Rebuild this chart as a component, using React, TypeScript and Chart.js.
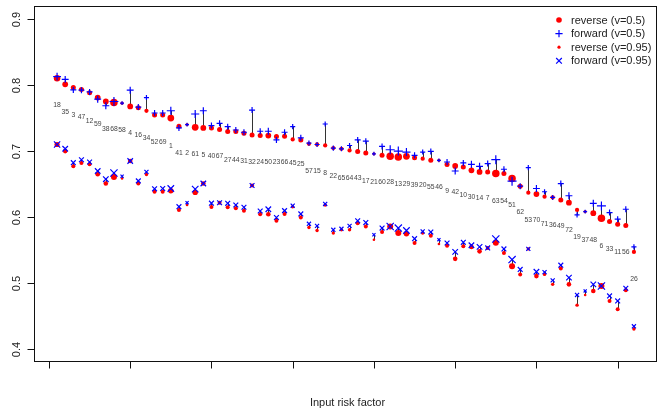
import { useEffect, useRef } from "react";
import { Chart, registerables } from "chart.js";

Chart.register(...registerables);

// Risk factor ids, in plotted order
const riskIds = [
  18, 35, 3, 47, 12, 59, 38, 68, 58, 4, 16, 34, 52, 69, 1, 41, 2, 61, 5, 40, 67, 27, 44, 31,
  32, 24, 50, 23, 66, 45, 25, 57, 15, 8, 22, 65, 64, 43, 17, 21, 60, 28, 13, 29, 39, 20, 55, 46,
  9, 42, 10, 30, 14, 7, 63, 54, 51, 62, 53, 70, 71, 36, 49, 72, 19, 37, 48, 6, 33, 11, 56, 26,
];

// reverse selection, v = 0.5
const reverseHalf = [
  0.8107, 0.8016, 0.7966, 0.7936, 0.7886, 0.7815, 0.7755, 0.774, 0.773, 0.768, 0.766, 0.7614,
  0.755, 0.755, 0.7504, 0.7378, 0.7404, 0.7363, 0.7353, 0.7353, 0.7328, 0.7298, 0.7298, 0.7273,
  0.7248, 0.7238, 0.7238, 0.7223, 0.7228, 0.7178, 0.7172, 0.7112, 0.7102, 0.7087, 0.7047, 0.7037,
  0.7012, 0.6997, 0.6972, 0.6961, 0.6937, 0.6922, 0.6911, 0.6922, 0.69, 0.6886, 0.6861, 0.6861,
  0.6797, 0.6776, 0.6761, 0.6711, 0.6686, 0.6686, 0.6661, 0.6661, 0.6585, 0.647, 0.637, 0.6349,
  0.6309, 0.6298, 0.6259, 0.6219, 0.6108, 0.6083, 0.6059, 0.5983, 0.5933, 0.5893, 0.5872, 0.5471,
];

// forward selection, v = 0.5
const forwardHalf = [
  0.8131, 0.809, 0.793, 0.7926, 0.79, 0.779, 0.769, 0.7755, 0.773, 0.7926, 0.767, 0.7815,
  0.758, 0.758, 0.7614, 0.7353, 0.7404, 0.7565, 0.7614, 0.7389, 0.7423, 0.7373, 0.7322, 0.7288,
  0.7624, 0.7303, 0.7303, 0.7172, 0.7288, 0.7373, 0.7203, 0.7123, 0.7102, 0.7413, 0.7047, 0.7037,
  0.7087, 0.7172, 0.7152, 0.6961, 0.7072, 0.7022, 0.7002, 0.6987, 0.6937, 0.6987, 0.6997, 0.6861,
  0.6836, 0.67, 0.6822, 0.6801, 0.6771, 0.6812, 0.6871, 0.6726, 0.6545, 0.647, 0.6751, 0.6434,
  0.6385, 0.6298, 0.6509, 0.6324, 0.6033, 0.6083, 0.6209, 0.6169, 0.6068, 0.5968, 0.6119, 0.5547,
];

// reverse selection, v = 0.95
const reverseHigh = [
  0.7102, 0.7002, 0.6771, 0.6822, 0.6801, 0.6651, 0.6511, 0.661, 0.6585, 0.6851, 0.6511, 0.6646,
  0.6385, 0.6385, 0.6399, 0.6108, 0.6184, 0.6375, 0.651, 0.6154, 0.6218, 0.6149, 0.6134, 0.6098,
  0.648, 0.6044, 0.6044, 0.5943, 0.6048, 0.6158, 0.5993, 0.5843, 0.5797, 0.6184, 0.5757, 0.5807,
  0.5807, 0.5908, 0.5857, 0.5657, 0.5772, 0.5857, 0.5757, 0.5747, 0.5607, 0.5757, 0.5717, 0.5592,
  0.5566, 0.5366, 0.5557, 0.5547, 0.548, 0.5532, 0.5612, 0.5456, 0.5255, 0.513, 0.5517, 0.5104,
  0.513, 0.4979, 0.522, 0.4979, 0.4663, 0.4818, 0.4879, 0.4954, 0.4727, 0.4602, 0.4889, 0.4301,
];

// forward selection, v = 0.95
const forwardHigh = [
  0.7102, 0.7037, 0.6826, 0.6871, 0.6836, 0.67, 0.6575, 0.667, 0.662, 0.6851, 0.655, 0.6686,
  0.6429, 0.6434, 0.6434, 0.6158, 0.6218, 0.6425, 0.651, 0.6211, 0.6218, 0.6209, 0.6184, 0.6149,
  0.648, 0.6093, 0.6119, 0.5993, 0.6098, 0.6173, 0.6048, 0.5898, 0.5867, 0.6199, 0.5807, 0.5822,
  0.5867, 0.5943, 0.5917, 0.5732, 0.5833, 0.5857, 0.5833, 0.5797, 0.5672, 0.5782, 0.5772, 0.5657,
  0.5607, 0.5471, 0.5617, 0.5572, 0.5547, 0.5532, 0.5667, 0.5517, 0.5355, 0.5205, 0.5517, 0.517,
  0.5164, 0.5039, 0.527, 0.508, 0.4818, 0.4879, 0.4979, 0.4954, 0.4803, 0.4727, 0.4919, 0.4342,
];

// vertical level of each id label
const labelLevel = [
  0.77, 0.76, 0.7554, 0.7524, 0.7464, 0.7404, 0.7333, 0.7333, 0.7313, 0.7273, 0.7248, 0.7203,
  0.7133, 0.7133, 0.7083, 0.6971, 0.6975, 0.6952, 0.6941, 0.6926, 0.6922, 0.6872, 0.6861, 0.6851,
  0.6836, 0.6836, 0.6836, 0.6836, 0.6836, 0.6812, 0.6797, 0.6696, 0.6696, 0.667, 0.6628, 0.659,
  0.6586, 0.6586, 0.655, 0.6535, 0.6535, 0.6535, 0.65, 0.65, 0.6485, 0.6485, 0.645, 0.645,
  0.64, 0.6384, 0.6334, 0.63, 0.6285, 0.6285, 0.6245, 0.6244, 0.6184, 0.6068, 0.5947, 0.5947,
  0.5893, 0.5883, 0.5857, 0.5807, 0.5697, 0.5657, 0.5646, 0.5566, 0.5521, 0.5471, 0.5471, 0.5065,
];

// relative symbol size of each id
const symbolScale = [
  1.3, 1.15, 1.0, 1.0, 1.0, 1.15, 1.15, 1.5, 0.65, 1.15, 1.0, 0.85, 1.0, 1.0, 1.35, 1.0, 0.65, 1.35,
  1.15, 1.0, 1.0, 1.0, 1.0, 1.0, 1.0, 1.0, 1.15, 1.0, 1.0, 0.85, 1.0, 0.85, 0.85, 0.85, 0.85, 0.85,
  0.85, 1.0, 1.0, 0.65, 1.0, 1.5, 1.5, 1.35, 1.0, 0.85, 1.0, 0.65, 1.0, 1.15, 1.0, 1.15, 1.15, 1.0,
  1.5, 1.0, 1.5, 1.0, 0.85, 1.15, 0.85, 0.85, 1.0, 1.15, 0.85, 0.65, 1.15, 1.5, 1.0, 1.0, 1.0, 0.85,
];

const yTicks = [0.4, 0.5, 0.6, 0.7, 0.8, 0.9];
const xTicks = [0, 10, 20, 30, 40, 50, 60, 70];

const RED = "#ff0000";
const BLUE = "#0000ff";
const INK = "#222222";
const FONT = '"Liberation Sans", Arial, Helvetica, sans-serif';

const legendItems = [
  { text: "reverse (v=0.5)", style: "circle", radius: 2.8, color: RED, fill: true },
  { text: "forward (v=0.5)", style: "cross", radius: 3.6, color: BLUE, fill: false },
  { text: "reverse (v=0.95)", style: "circle", radius: 1.6, color: RED, fill: true },
  { text: "forward (v=0.95)", style: "crossRot", radius: 4.0, color: BLUE, fill: false },
];

export default function App() {
  const canvasRef = useRef<HTMLCanvasElement | null>(null);

  useEffect(() => {
    document.body.style.margin = "0";
    const canvas = canvasRef.current;
    if (!canvas) return;

    const xPos = riskIds.map((_, i) => i + 1);
    const toPoints = (vals: number[]) => vals.map((y, i) => ({ x: xPos[i], y }));

    // pairs of reverse / forward results joined by a thin segment
    const pairs: [number[], number[]][] = [
      [reverseHalf, forwardHalf],
      [reverseHigh, forwardHigh],
    ];

    const decorations = {
      id: "decorations",
      beforeDatasetsDraw(chart: any) {
        const { ctx, scales } = chart;
        const xs = scales.x;
        const ys = scales.y;
        ctx.save();
        ctx.strokeStyle = "#333333";
        ctx.lineWidth = 1;
        pairs.forEach(([a, b]) => {
          a.forEach((v, i) => {
            const px = Math.round(xs.getPixelForValue(xPos[i])) + 0.5;
            ctx.beginPath();
            ctx.moveTo(px, ys.getPixelForValue(v));
            ctx.lineTo(px, ys.getPixelForValue(b[i]));
            ctx.stroke();
          });
        });
        // id labels
        ctx.fillStyle = "#444444";
        ctx.font = `6.8px ${FONT}`;
        ctx.textAlign = "center";
        ctx.textBaseline = "middle";
        riskIds.forEach((id, i) => {
          ctx.fillText(String(id), xs.getPixelForValue(xPos[i]), ys.getPixelForValue(labelLevel[i]));
        });
        ctx.restore();
      },
      afterDraw(chart: any) {
        const { ctx, chartArea, scales } = chart;
        const xs = scales.x;
        const ys = scales.y;
        const L = Math.round(chartArea.left) + 0.5;
        const R = Math.round(chartArea.right) - 0.5;
        const T = Math.round(chartArea.top) + 0.5;
        const B = Math.round(chartArea.bottom) - 0.5;
        ctx.save();
        ctx.strokeStyle = "#111111";
        ctx.lineWidth = 1;
        ctx.strokeRect(L, T, R - L, B - T);

        // y axis
        ctx.fillStyle = INK;
        ctx.font = `11px ${FONT}`;
        ctx.textAlign = "center";
        ctx.textBaseline = "middle";
        yTicks.forEach((t) => {
          const py = Math.round(ys.getPixelForValue(t)) + 0.5;
          ctx.beginPath();
          ctx.moveTo(L, py);
          ctx.lineTo(L - 7, py);
          ctx.stroke();
          ctx.save();
          ctx.translate(17, py);
          ctx.rotate(-Math.PI / 2);
          ctx.fillText(t.toFixed(1), 0, 0);
          ctx.restore();
        });

        // x axis (ticks only)
        const x0 = Math.round(xs.getPixelForValue(xTicks[0])) + 0.5;
        const x1 = Math.round(xs.getPixelForValue(xTicks[xTicks.length - 1])) + 0.5;
        ctx.beginPath();
        ctx.moveTo(x0, B);
        ctx.lineTo(x1, B);
        ctx.stroke();
        xTicks.forEach((t) => {
          const px = Math.round(xs.getPixelForValue(t)) + 0.5;
          ctx.beginPath();
          ctx.moveTo(px, B);
          ctx.lineTo(px, B + 7);
          ctx.stroke();
        });
        ctx.fillText("Input risk factor", (chartArea.left + chartArea.right) / 2 + 2, 403);

        // legend
        ctx.textAlign = "left";
        legendItems.forEach((item, k) => {
          const cy = 20 + k * 13.6;
          const cx = 559;
          ctx.strokeStyle = item.color;
          ctx.fillStyle = item.color;
          ctx.lineWidth = 1.2;
          ctx.beginPath();
          if (item.style === "circle") {
            ctx.arc(cx, cy, item.radius, 0, Math.PI * 2);
            ctx.fill();
          } else if (item.style === "cross") {
            ctx.moveTo(cx - item.radius, cy);
            ctx.lineTo(cx + item.radius, cy);
            ctx.moveTo(cx, cy - item.radius);
            ctx.lineTo(cx, cy + item.radius);
            ctx.stroke();
          } else {
            const d = item.radius * Math.SQRT1_2;
            ctx.moveTo(cx - d, cy - d);
            ctx.lineTo(cx + d, cy + d);
            ctx.moveTo(cx - d, cy + d);
            ctx.lineTo(cx + d, cy - d);
            ctx.stroke();
          }
          ctx.fillStyle = INK;
          ctx.fillText(item.text, 571, cy + 0.5);
        });
        ctx.restore();
      },
    };

    const chart = new Chart(canvas, {
      type: "scatter",
      data: {
        datasets: [
          {
            label: "forward (v=0.5)",
            data: toPoints(forwardHalf),
            pointStyle: "cross",
            pointRadius: symbolScale.map((s) => 3.0 * s),
            borderColor: BLUE,
            backgroundColor: BLUE,
            pointBorderWidth: 1.2,
            order: 1,
          },
          {
            label: "forward (v=0.95)",
            data: toPoints(forwardHigh),
            pointStyle: "crossRot",
            pointRadius: symbolScale.map((s) => 3.4 * s),
            borderColor: BLUE,
            backgroundColor: BLUE,
            pointBorderWidth: 1.2,
            order: 2,
          },
          {
            label: "reverse (v=0.5)",
            data: toPoints(reverseHalf),
            pointStyle: "circle",
            pointRadius: symbolScale.map((s) => 2.5 * s),
            borderColor: RED,
            backgroundColor: RED,
            pointBorderWidth: 0,
            order: 3,
          },
          {
            label: "reverse (v=0.95)",
            data: toPoints(reverseHigh),
            pointStyle: "circle",
            pointRadius: symbolScale.map((s) => 2.0 * s),
            borderColor: RED,
            backgroundColor: RED,
            pointBorderWidth: 0,
            order: 4,
          },
        ],
      },
      options: {
        animation: false,
        responsive: false,
        devicePixelRatio: 1,
        events: [],
        layout: { padding: { left: 34, right: 8, top: 6, bottom: 48 } },
        scales: {
          x: { type: "linear", min: -1.84, max: 74.84, display: false },
          y: { type: "linear", min: 0.38, max: 0.92, display: false },
        },
        plugins: { legend: { display: false }, tooltip: { enabled: false } },
      },
      plugins: [decorations],
    });

    return () => chart.destroy();
  }, []);

  return (
    <canvas ref={canvasRef} width={665} height={410} style={{ display: "block" }} />
  );
}
